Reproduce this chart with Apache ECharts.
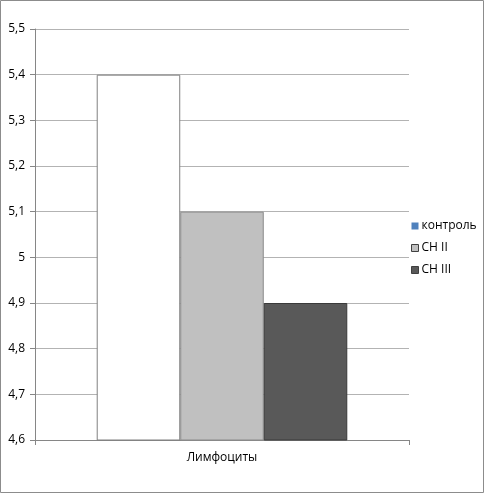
<!DOCTYPE html>
<html>
<head>
<meta charset="utf-8">
<script src="https://cdn.jsdelivr.net/npm/echarts@6/dist/echarts.min.js"></script>
<style>
  html, body { margin: 0; padding: 0; background: #fff; }
  #chart { width: 485px; height: 494px; }
</style>
</head>
<body>
<div id="chart"></div>
<script>
// данные
var categories = ["Лимфоциты"];
var seriesNames = ["контроль", "СН II", "СН III"];
var control = [5.4];
var chII = [5.1];
var chIII = [4.9];

var barColors = ["#ffffff", "#c0c0c0", "#595959"];
var borderColors = ["#808080", "#8a8a8a", "#3a3a3a"];
var legendColors = ["#4f81bd", "#c0c0c0", "#595959"];

var chart = echarts.init(document.getElementById("chart"));

var values = [control, chII, chIII];
var series = seriesNames.map(function (name, i) {
  return {
    name: name,
    type: "bar",
    data: values[i],
    barGap: 0,
    barCategoryGap: "33%",
    itemStyle: {
      color: barColors[i],
      borderColor: borderColors[i],
      borderWidth: 1
    }
  };
});

var option = {
  animation: false,
  textStyle: { fontFamily: "Open Sans, sans-serif" },
  grid: { left: 35, right: 76, top: 29, bottom: 54 },
  graphic: [{
    type: "rect",
    shape: { x: 0.5, y: 0.5, width: 483, height: 492 },
    style: { fill: null, stroke: "#8c8c8c", lineWidth: 1 }
  }],
  legend: {
    orient: "vertical",
    left: 406,
    top: 215,
    itemWidth: 7,
    itemHeight: 7,
    itemGap: 10,
    icon: "rect",
    textStyle: { fontSize: 12, color: "#000", padding: [0, 0, 0, -2] },
    data: seriesNames.map(function (n, i) {
      return {
        name: n,
        itemStyle: {
          color: legendColors[i],
          borderColor: i === 0 ? legendColors[0] : "#404040",
          borderWidth: i === 0 ? 0 : 1
        }
      };
    })
  },
  xAxis: {
    type: "category",
    data: categories,
    axisLine: { lineStyle: { color: "#868686" } },
    axisTick: { show: true, length: 5, lineStyle: { color: "#868686" } },
    axisLabel: { fontSize: 12, color: "#000", margin: 12 }
  },
  yAxis: {
    type: "value",
    min: 4.6,
    max: 5.5,
    interval: 0.1,
    axisLine: { show: true, lineStyle: { color: "#868686" } },
    axisTick: { show: true, length: 5, lineStyle: { color: "#868686" } },
    splitLine: { lineStyle: { color: "#b3b3b3" } },
    axisLabel: {
      fontSize: 12,
      color: "#000",
      margin: 10,
      formatter: function (v) {
        return String(Number(v.toFixed(1))).replace(".", ",");
      }
    }
  },
  series: series
};

chart.setOption(option);
</script>
</body>
</html>
